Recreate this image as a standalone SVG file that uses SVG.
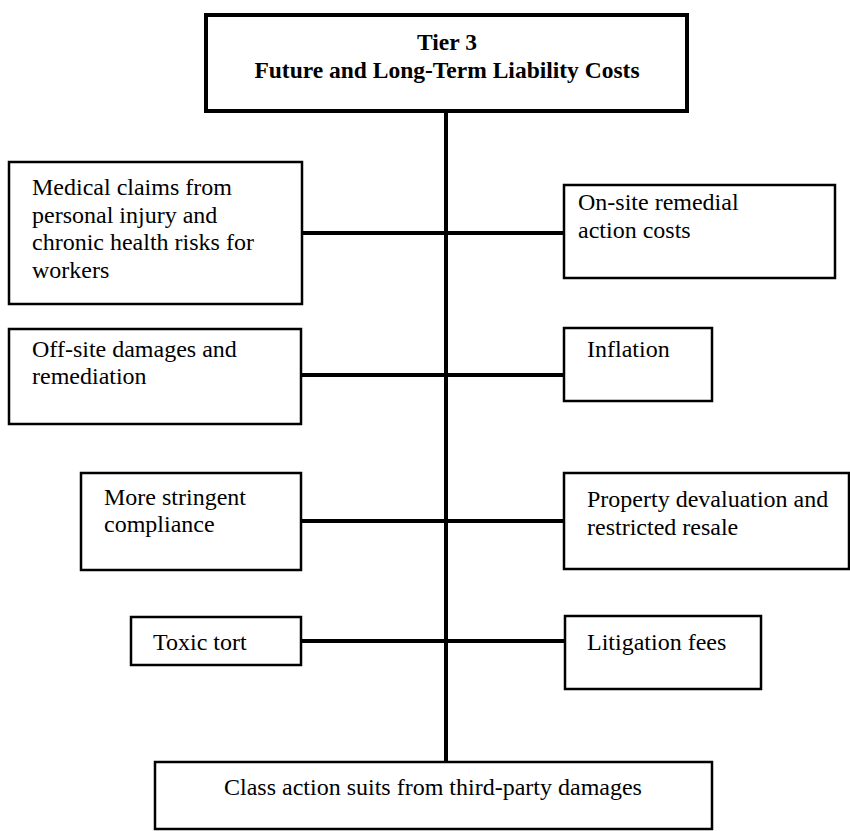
<svg xmlns="http://www.w3.org/2000/svg" width="850" height="831" viewBox="0 0 850 831">
  <style>
    .box { fill: #ffffff; stroke: #000000; stroke-width: 2.5; }
    .head { fill: #ffffff; stroke: #000000; stroke-width: 4; }
    .wire { stroke: #000000; stroke-width: 4; fill: none; }
    text { font-family: "Liberation Serif", "Times New Roman", serif; font-size: 24px; fill: #000000; }
    .title { font-weight: bold; font-size: 23.5px; text-anchor: middle; }
  </style>
  <rect width="850" height="831" fill="#ffffff"/>

  <!-- trunk and branches -->
  <g id="connectors">
    <line class="wire" x1="446" y1="111" x2="446" y2="762"/>
    <line class="wire" x1="302" y1="233" x2="564" y2="233"/>
    <line class="wire" x1="301" y1="375" x2="564" y2="375"/>
    <line class="wire" x1="301" y1="521" x2="564" y2="521"/>
    <line class="wire" x1="301" y1="641" x2="565" y2="641"/>
  </g>

  <g id="tier3">
    <rect class="head" x="206" y="15" width="481" height="96"/>
    <text class="title" x="447" y="50">Tier 3</text>
    <text class="title" x="447" y="78">Future and Long-Term Liability Costs</text>
  </g>

  <g id="medical-claims">
    <rect class="box" x="9" y="162" width="293" height="142"/>
    <text x="32" y="195">Medical claims from</text>
    <text x="32" y="222.5">personal injury and</text>
    <text x="32" y="250">chronic health risks for</text>
    <text x="32" y="277.5">workers</text>
  </g>

  <g id="onsite-remedial">
    <rect class="box" x="564" y="185" width="271" height="93"/>
    <text x="578" y="210">On-site remedial</text>
    <text x="578" y="238">action costs</text>
  </g>

  <g id="offsite-damages">
    <rect class="box" x="9" y="329" width="292" height="95"/>
    <text x="32" y="357">Off-site damages and</text>
    <text x="32" y="384">remediation</text>
  </g>

  <g id="inflation">
    <rect class="box" x="564" y="328" width="148" height="73"/>
    <text x="587" y="357">Inflation</text>
  </g>

  <g id="stringent-compliance">
    <rect class="box" x="81" y="473" width="220" height="97"/>
    <text x="104" y="505">More stringent</text>
    <text x="104" y="532">compliance</text>
  </g>

  <g id="property-devaluation">
    <rect class="box" x="564" y="473" width="285" height="96"/>
    <text x="587" y="507">Property devaluation and</text>
    <text x="587" y="535">restricted resale</text>
  </g>

  <g id="toxic-tort">
    <rect class="box" x="131" y="617" width="170" height="48"/>
    <text x="153" y="650">Toxic tort</text>
  </g>

  <g id="litigation-fees">
    <rect class="box" x="565" y="616" width="196" height="73"/>
    <text x="587" y="650">Litigation fees</text>
  </g>

  <g id="class-action">
    <rect class="box" x="155" y="762" width="557" height="67"/>
    <text x="433" y="795" text-anchor="middle">Class action suits from third-party damages</text>
  </g>
</svg>
